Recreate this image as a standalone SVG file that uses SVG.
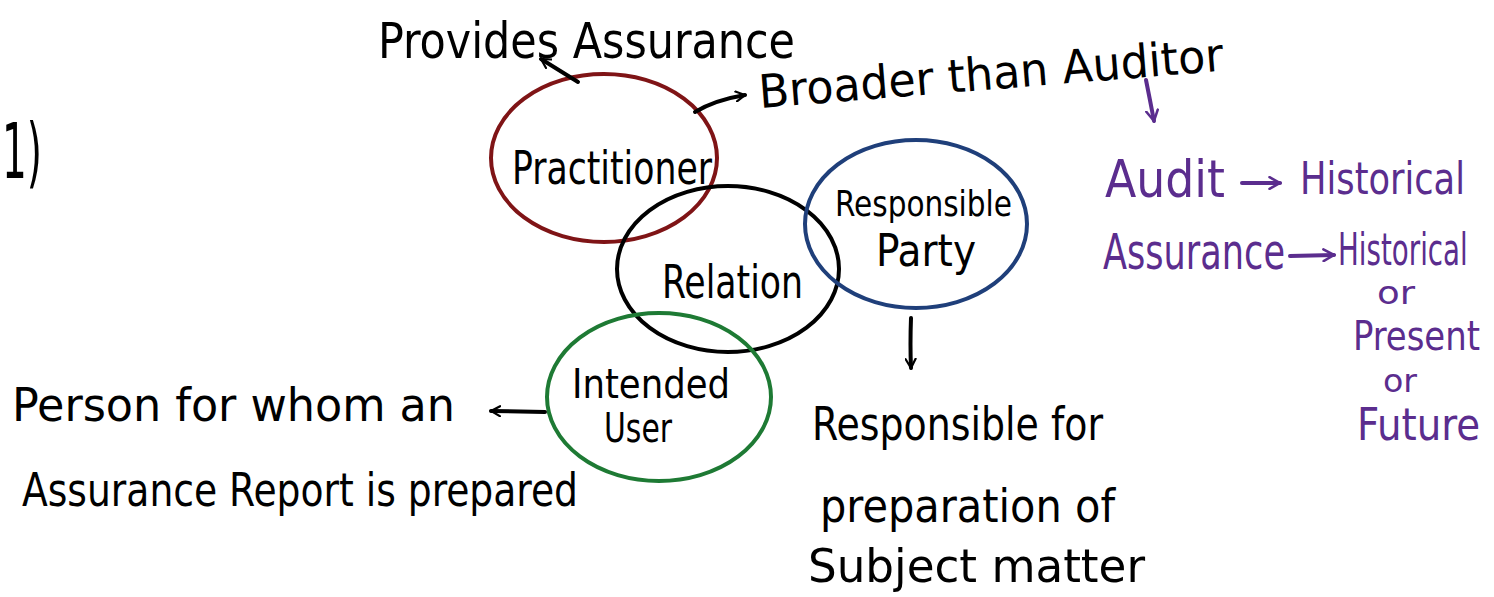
<svg xmlns="http://www.w3.org/2000/svg" width="1494" height="597" viewBox="0 0 1494 597">
<style>
text{font-family:"DejaVu Sans Condensed","Liberation Sans",sans-serif;fill:#000}
.p{fill:#5b2d8e}
.c{fill:none;stroke-width:4}
.ln{fill:none;stroke:#000;stroke-width:4;stroke-linecap:round}
.lp{fill:none;stroke:#5b2d8e;stroke-width:4;stroke-linecap:round}
</style>
<defs>
<marker id="ah" viewBox="0 0 12 12" refX="10" refY="6" markerWidth="12" markerHeight="12" markerUnits="userSpaceOnUse" orient="auto">
<path d="M1,1 L10,6 L1,11" fill="none" stroke="#000" stroke-width="2.2" stroke-linecap="round"/>
</marker>
<marker id="ahp" viewBox="0 0 12 12" refX="10" refY="6" markerWidth="14" markerHeight="14" markerUnits="userSpaceOnUse" orient="auto">
<path d="M1,1 L10,6 L1,11" fill="none" stroke="#5b2d8e" stroke-width="2.2" stroke-linecap="round"/>
</marker>
</defs>
<rect width="1494" height="597" fill="#fff"/>
<text x="2" y="178" font-size="76" textLength="40" lengthAdjust="spacingAndGlyphs">1)</text>

<g id="practitioner">
<ellipse class="c" cx="604" cy="158" rx="113" ry="84" stroke="#7f1416"/>
<text x="512" y="184" font-size="46" textLength="200" lengthAdjust="spacingAndGlyphs">Practitioner</text>
</g>
<g id="relation">
<ellipse class="c" cx="728" cy="269" rx="111" ry="83" stroke="#000"/>
<text x="662" y="298" font-size="46" textLength="141" lengthAdjust="spacingAndGlyphs">Relation</text>
</g>
<g id="responsible-party">
<ellipse class="c" cx="916" cy="224" rx="111" ry="84" stroke="#1f3f7a"/>
<text x="835" y="216" font-size="36" textLength="177" lengthAdjust="spacingAndGlyphs">Responsible</text>
<text x="876" y="266" font-size="44" textLength="100" lengthAdjust="spacingAndGlyphs">Party</text>
</g>
<g id="intended-users">
<ellipse class="c" cx="659" cy="397" rx="112" ry="84" stroke="#1e7a34"/>
<text x="572" y="398" font-size="40" textLength="158" lengthAdjust="spacingAndGlyphs">Intended</text>
<text x="604" y="442" font-size="40" textLength="68" lengthAdjust="spacingAndGlyphs">User</text>
</g>

<g id="provides">
<text x="378" y="58" font-size="50" textLength="417" lengthAdjust="spacingAndGlyphs">Provides Assurance</text>
</g>
<g id="broader">
<text x="760" y="108" font-size="46" textLength="466" lengthAdjust="spacingAndGlyphs" transform="rotate(-4.6 760 108)">Broader than Auditor</text>
</g>
<g id="person">
<text x="12" y="421" font-size="46" textLength="443" lengthAdjust="spacingAndGlyphs">Person for whom an</text>
<text x="22" y="506" font-size="46" textLength="556" lengthAdjust="spacingAndGlyphs">Assurance Report is prepared</text>
</g>
<g id="responsible-for">
<text x="812" y="440" font-size="46" textLength="291" lengthAdjust="spacingAndGlyphs">Responsible for</text>
<text x="820" y="522" font-size="46" textLength="295" lengthAdjust="spacingAndGlyphs">preparation of</text>
<text x="808" y="582" font-size="46" textLength="337" lengthAdjust="spacingAndGlyphs">Subject matter</text>
</g>
<g id="audit-notes">
<text class="p" x="1105" y="197" font-size="52" textLength="120" lengthAdjust="spacingAndGlyphs">Audit</text>
<text class="p" x="1300" y="194" font-size="44" textLength="165" lengthAdjust="spacingAndGlyphs">Historical</text>
<text class="p" x="1103" y="269" font-size="50" textLength="182" lengthAdjust="spacingAndGlyphs">Assurance</text>
<text class="p" x="0" y="0" font-size="44" transform="translate(1338 265) scale(0.7 1)">Historical</text>
<text class="p" x="1377" y="304" font-size="32" textLength="38" lengthAdjust="spacingAndGlyphs">or</text>
<text class="p" x="1353" y="350" font-size="40" textLength="127" lengthAdjust="spacingAndGlyphs">Present</text>
<text class="p" x="1383" y="392" font-size="32" textLength="34" lengthAdjust="spacingAndGlyphs">or</text>
<text class="p" x="1357" y="440" font-size="44" textLength="123" lengthAdjust="spacingAndGlyphs">Future</text>
</g>

<g id="connectors">
<path class="ln" d="M578,82 L541,59" marker-end="url(#ah)"/>
<path class="ln" d="M695,112 Q715,100 745,95" marker-end="url(#ah)"/>
<path class="ln" d="M545,412 L491,411" marker-end="url(#ah)"/>
<path class="ln" d="M911,318 Q910,345 911,368" marker-end="url(#ah)"/>
<path class="lp" d="M1146,80 Q1150,100 1154,121" marker-end="url(#ahp)"/>
<path class="lp" d="M1242,183 L1280,183" marker-end="url(#ahp)"/>
<path class="lp" d="M1290,256 L1334,255" marker-end="url(#ahp)"/>
</g>
</svg>
